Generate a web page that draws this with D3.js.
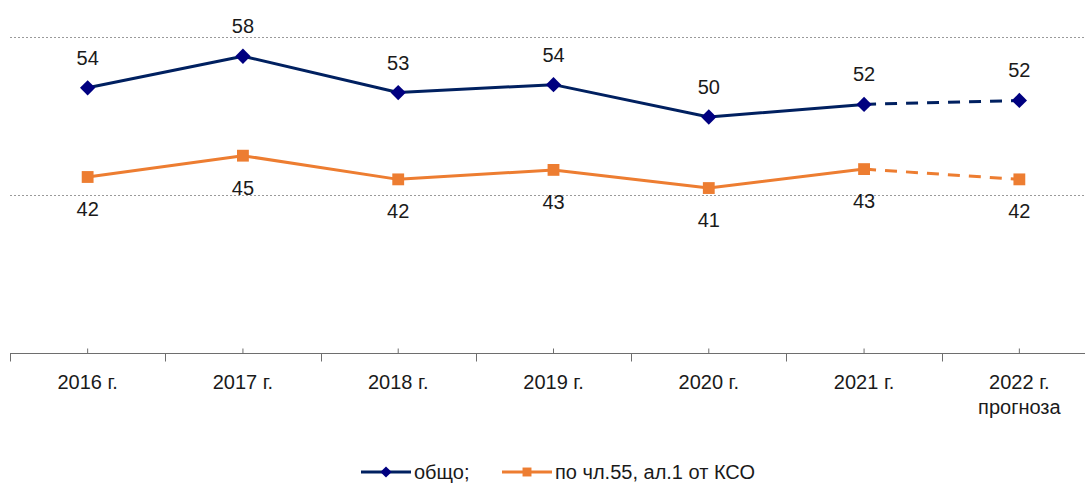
<!DOCTYPE html>
<html>
<head>
<meta charset="utf-8">
<script src="https://cdn.jsdelivr.net/npm/d3@7"></script>
<style>
  body { margin: 0; background: #fff; }
  text { font-family: "Liberation Sans", Arial, sans-serif; fill: #1a1a1a; }
</style>
</head>
<body>
<script>
// categories on the x axis (second line after "|")
var years = ["2016 г.", "2017 г.", "2018 г.", "2019 г.", "2020 г.", "2021 г.", "2022 г.|прогноза"];
// series values
var totalValues = [53.6, 57.6, 53.0, 54.0, 49.9, 51.5, 52.0];
var art55Values = [42.3, 45.0, 42.0, 43.2, 40.9, 43.3, 42.0];
var seriesNames = ["общо;", "по чл.55, ал.1 от КСО"];
var gridValues = [40, 60];

var width = 1085, height = 487;
var blue = "#002060", navy = "#000080", orange = "#ED7D31";

var svg = d3.select("body").append("svg")
  .attr("width", width)
  .attr("height", height);

var x = d3.scaleBand().domain(years).range([10, 1097]);
var y = d3.scaleLinear().domain([20, 60]).range([353, 37.3]);
var cx = function (d) { return x(d) + x.bandwidth() / 2; };

// dotted gridlines
svg.selectAll(".grid")
  .data(gridValues)
  .enter()
  .append("line")
    .attr("x1", 10)
    .attr("x2", width)
    .attr("y1", function (d) { return Math.round(y(d)) + 0.5; })
    .attr("y2", function (d) { return Math.round(y(d)) + 0.5; })
    .attr("stroke", "#9a9a9a")
    .attr("stroke-dasharray", "2,2");

// x axis: short ticks up at the centres, long ticks down at the borders
var axis = svg.append("g")
  .attr("transform", "translate(0,353.5)")
  .call(d3.axisBottom(x).tickSize(-5).tickSizeOuter(0).tickPadding(21));
axis.select(".domain").attr("stroke", "#6e6e6e").attr("d", "M10,0H" + width);
axis.selectAll(".tick line").attr("stroke", "#6e6e6e");
axis.selectAll(".tick text")
  .attr("font-size", 20)
  .attr("fill", "#1a1a1a")
  .style("font-family", "'Liberation Sans', Arial, sans-serif")
  .text(null)
  .each(function (d) {
    var parts = d.split("|");
    var t = d3.select(this);
    parts.forEach(function (p, i) {
      t.append("tspan").attr("x", 0).attr("dy", i === 0 ? "0.71em" : "1.25em").text(p);
    });
  })
  .attr("dy", null);

axis.selectAll(".border")
  .data(years)
  .enter()
  .append("line")
    .attr("x1", function (d) { return Math.round(x(d)) + 0.5; })
    .attr("x2", function (d) { return Math.round(x(d)) + 0.5; })
    .attr("y1", 0)
    .attr("y2", 8)
    .attr("stroke", "#6e6e6e");

function drawSeries(values, color, dash) {
  var pts = years.map(function (d, i) { return [cx(d), y(values[i])]; });
  var line = d3.line();
  svg.append("path")
    .attr("d", line(pts.slice(0, 6)))
    .attr("fill", "none")
    .attr("stroke", color)
    .attr("stroke-width", 3)
    .attr("stroke-linejoin", "round");
  svg.append("path")
    .attr("d", line(pts.slice(5)))
    .attr("fill", "none")
    .attr("stroke", color)
    .attr("stroke-width", 3)
    .attr("stroke-dasharray", dash);
  return pts;
}

var bluePts = drawSeries(totalValues, blue, "12,9");
var orangePts = drawSeries(art55Values, orange, "12,9");

var diamond = d3.symbol().type(d3.symbolDiamond2).size(150);
var square = d3.symbol().type(d3.symbolSquare).size(140);

svg.selectAll(".dia")
  .data(bluePts)
  .enter()
  .append("path")
    .attr("d", diamond)
    .attr("transform", function (d) { return "translate(" + d[0] + "," + d[1] + ")"; })
    .attr("fill", navy);

svg.selectAll(".sq")
  .data(orangePts)
  .enter()
  .append("path")
    .attr("d", square)
    .attr("transform", function (d) { return "translate(" + d[0] + "," + d[1] + ")"; })
    .attr("fill", orange);

// data labels
svg.selectAll(".lblTop")
  .data(totalValues)
  .enter()
  .append("text")
    .attr("x", function (d, i) { return bluePts[i][0]; })
    .attr("y", function (d, i) { return bluePts[i][1] - 23; })
    .attr("text-anchor", "middle")
    .attr("font-size", 20)
    .text(function (d) { return Math.round(d); });

svg.selectAll(".lblBot")
  .data(art55Values)
  .enter()
  .append("text")
    .attr("x", function (d, i) { return orangePts[i][0]; })
    .attr("y", function (d, i) { return orangePts[i][1] + 39; })
    .attr("text-anchor", "middle")
    .attr("font-size", 20)
    .text(function (d) { return Math.round(d); });

// legend
var legend = svg.append("g").attr("transform", "translate(0,472)");
var legendItems = [
  { x: 361, color: blue, mark: navy, sym: d3.symbol().type(d3.symbolDiamond2).size(80) },
  { x: 502, color: orange, mark: orange, sym: d3.symbol().type(d3.symbolSquare).size(80) }
];
legendItems.forEach(function (it, i) {
  legend.append("line")
    .attr("x1", it.x).attr("x2", it.x + 50)
    .attr("y1", 0).attr("y2", 0)
    .attr("stroke", it.color).attr("stroke-width", 3);
  legend.append("path")
    .attr("d", it.sym)
    .attr("transform", "translate(" + (it.x + 25) + ",0)")
    .attr("fill", it.mark);
  legend.append("text")
    .attr("x", it.x + 53)
    .attr("y", 7)
    .attr("font-size", 20)
    .text(seriesNames[i]);
});
</script>
</body>
</html>
